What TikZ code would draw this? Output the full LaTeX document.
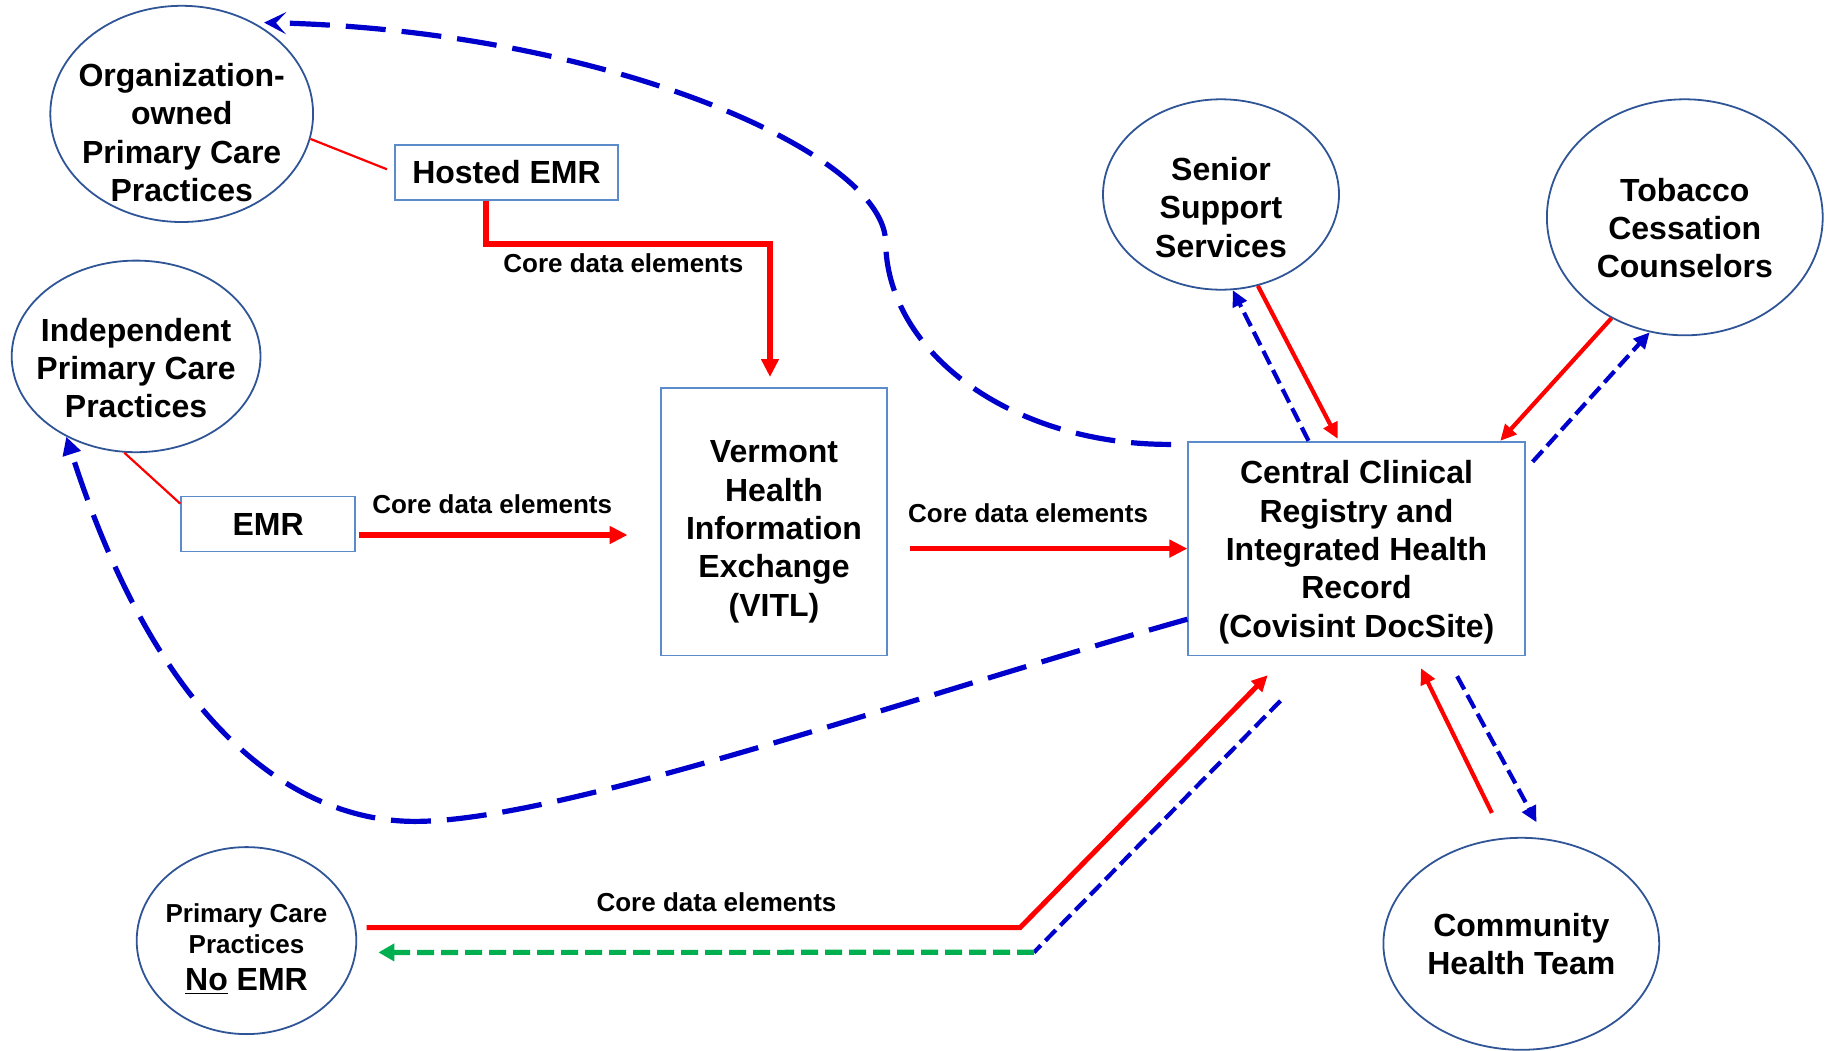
\documentclass[tikz,border=0pt]{standalone}
\usepackage{fontspec}
\setmainfont{Liberation Sans}
\usepackage{tikz}
\usetikzlibrary{arrows.meta,shapes.geometric}
\definecolor{ringblue}{HTML}{2F5597}
\definecolor{boxblue}{HTML}{5B8BC9}
\definecolor{flowred}{HTML}{FF0000}
\definecolor{backblue}{HTML}{0000CC}
\definecolor{printgreen}{HTML}{00B050}
% strut on the first line, sets the text a little lower in its shape
\newcommand\textdrop[1]{\rule{0pt}{#1}}
\tikzset{
  practice/.style={ellipse,draw=ringblue,line width=0.9pt,inner xsep=-8pt,inner ysep=-12pt,
    align=center,font=\fontsize{16}{19.2}\selectfont\bfseries},
  sysbox/.style={rectangle,draw=boxblue,line width=0.9pt,inner sep=0pt,
    align=center,font=\fontsize{16}{19.2}\selectfont\bfseries},
  datalabel/.style={font=\fontsize{13}{15.6}\selectfont\bfseries,inner sep=2pt},
  linkline/.style={draw=flowred,line width=1.1pt},
  dataflow/.style={draw=flowred,line width=2.8pt,-{Triangle[length=9pt,width=8.5pt]}},
  sideflow/.style={draw=flowred,line width=2.1pt,-{Triangle[length=8pt,width=7.5pt]}},
  backdash/.style={draw=backblue,line width=2.1pt,dash pattern=on 7.5pt off 3.2pt},
  returnflow/.style={backdash,-{Triangle[length=8pt,width=7.5pt]}},
  longreturn/.style={draw=backblue,line width=2.6pt,dash pattern=on 20pt off 8pt,
    -{Triangle[length=9pt,width=9pt]}},
  printflow/.style={draw=printgreen,line width=2.6pt,dash pattern=on 8.5pt off 3.5pt,
    -{Triangle[length=8pt,width=8.5pt]}}
}

\begin{document}
\begin{tikzpicture}[x=0.5pt,y=-0.5pt]
\useasboundingbox (0,0) rectangle (1832,1050);

% practices and services
\node[practice,minimum width=131.4pt,minimum height=108.1pt] (orgpc) at (181.7,113.9)
  {\textdrop{30.3pt}Organization-\\owned\\Primary Care\\Practices};
\node[practice,minimum width=124.4pt,minimum height=95.8pt] (indep) at (136.1,356.4)
  {\textdrop{23.3pt}Independent\\Primary Care\\Practices};
\node[practice,minimum width=118pt,minimum height=95.2pt] (senior) at (1221,194.5)
  {\textdrop{24.5pt}Senior\\Support\\Services};
\node[practice,minimum width=137.9pt,minimum height=118pt] (tobacco) at (1684.8,217.3)
  {\textdrop{22.3pt}Tobacco\\Cessation\\Counselors};
\node[practice,minimum width=137.9pt,minimum height=106pt] (chteam) at (1521.3,943.8)
  {Community\\Health Team};
\node[practice,minimum width=109.8pt,minimum height=93.5pt] (noemr) at (246.5,940.6)
  {{\fontsize{13}{15.8}\selectfont\textdrop{17.7pt}Primary Care}\\[-3.4pt]
   {\fontsize{13}{15.8}\selectfont Practices}\\[-1.1pt]\underline{No} EMR};

% systems
\node[sysbox,minimum width=111.6pt,minimum height=27.5pt] (hosted) at (506.5,172.3) {Hosted EMR};
\node[sysbox,minimum width=87pt,minimum height=27.5pt] (emr) at (268.1,524) {EMR};
\node[sysbox,minimum width=112.7pt,minimum height=133.8pt] (vitl) at (774,521.7)
  {\textdrop{21.1pt}Vermont\\Health\\Information\\Exchange\\(VITL)};
\node[sysbox,minimum width=168.2pt,minimum height=106.9pt] (ccr) at (1356.5,548.6)
  {\textdrop{15.3pt}Central Clinical\\Registry and\\Integrated Health\\Record\\(Covisint DocSite)};

\coordinate (topturn) at (885.6,240);
\coordinate (lowturn) at (414.8,821.4);
\coordinate (rbend) at (1020,927.7);
\coordinate (gbend) at (1034,952.3);

% ties to the records
\draw[linkline] (orgpc.-11) -- ([xshift=-3.5pt,yshift=1.5pt]hosted.west);
\draw[linkline] (indep.-97) -- ([yshift=-4pt]emr.north west);

% core data flows
\draw[dataflow] ([xshift=-10.3pt]hosted.south) -- ++(0,43.2)
  -| node[datalabel,pos=0.25,below=1.3pt,xshift=-2.3pt] {Core data elements} ([xshift=-2pt,yshift=5pt]vitl.north);
\draw[dataflow,shorten <=1.7pt,shorten >=16.4pt] ([yshift=-5.5pt]emr.east)
  -- node[datalabel,above=7pt,xshift=-8pt] {Core data elements} ([yshift=-5.5pt]emr.east -| vitl.west);
\draw[dataflow,shorten <=11.1pt] (vitl.east |- ccr.west)
  -- node[datalabel,above=9.7pt,xshift=-4.7pt] {Core data elements} (ccr.west);
\draw[sideflow,line width=2.5pt] ([xshift=4.7pt,yshift=6.5pt]noemr.east)
  -- node[datalabel,above=4.5pt,xshift=11.6pt] {Core data elements} (rbend)
  -- ([xshift=-44.4pt,yshift=-9.4pt]ccr.south);

% services to and from the registry
\draw[sideflow] (senior.-68) -- ([xshift=-9.4pt,yshift=1pt]ccr.north);
\draw[returnflow] ([xshift=-24pt]ccr.north) -- (senior.-83);
\draw[sideflow] (tobacco.-126) -- ([xshift=71.9pt]ccr.north);
\draw[returnflow] ([xshift=3.5pt,yshift=-10.5pt]ccr.north east) -- (tobacco.-107);
\draw[sideflow] ([xshift=-14.7pt,yshift=12pt]chteam.north) -- ([xshift=32.2pt,yshift=-5.9pt]ccr.south);
\draw[returnflow] ([xshift=50.3pt,yshift=-9.9pt]ccr.south) -- ([xshift=7.6pt,yshift=7.3pt]chteam.north);

% registry back to practices
\draw[backdash] ([xshift=-38pt,yshift=-22.2pt]ccr.south) -- (gbend);
\draw[printflow] (gbend) -- ([xshift=10.6pt,yshift=-5.9pt]noemr.east);
\draw[longreturn,-{Stealth[length=11pt,width=11pt,inset=5pt]}] ([xshift=-8.2pt,yshift=-1.8pt]ccr.north west)
  .. controls (1014,445.2) and (885.6,354) .. (topturn)
  .. controls (880,150) and (600,30) .. ([xshift=0pt,yshift=3pt]orgpc.46);
\draw[longreturn] ([yshift=-35.3pt]ccr.west)
  .. controls (900,700) and (560,821.4) .. (lowturn)
  .. controls (320,821.4) and (170,760) .. (indep.-131);
\end{tikzpicture}
\end{document}
